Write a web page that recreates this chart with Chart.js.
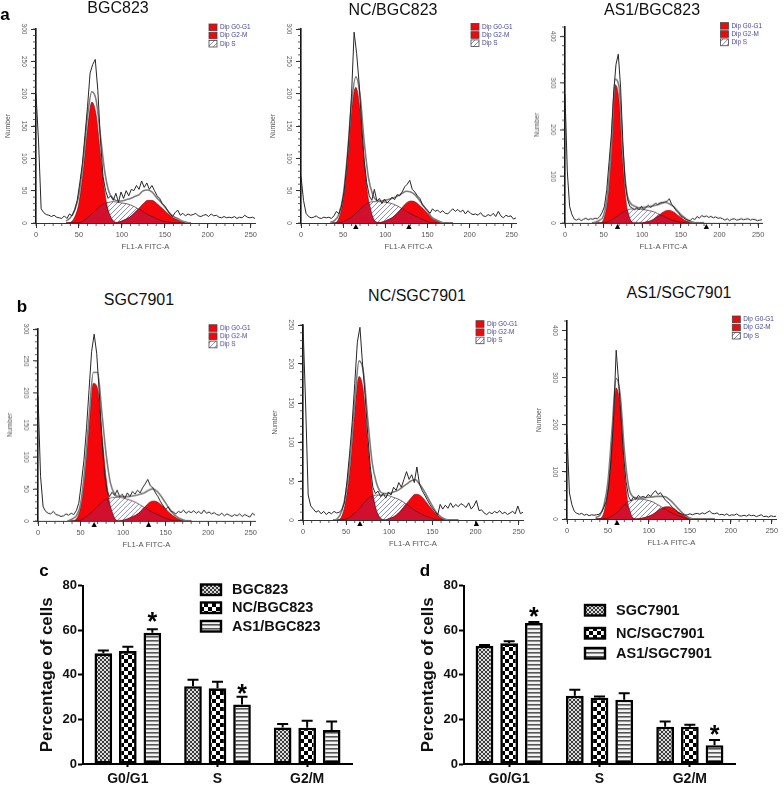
<!DOCTYPE html>
<html>
<head>
<meta charset="utf-8">
<script src="https://cdn.jsdelivr.net/npm/chart.js@4"></script>
<style>
  body { margin: 0; background: #fff; width: 784px; height: 786px; overflow: hidden; position: relative; font-family: "Liberation Sans", Arial, sans-serif; }
  canvas { position: absolute; filter: blur(0.35px); }
  .title { position: absolute; font-size: 16px; color: #111; transform: translate(-50%, -50%); white-space: nowrap; }
  .letter { position: absolute; font-size: 17px; font-weight: bold; color: #000; transform: translate(-50%, -50%); }
</style>
</head>
<body>
<script>
// Histogram channels (bins are read every 3 units) and the grid used for the fitted curves
const rawX = [0,3,6,9,12,15,18,21,24,27,30,33,36,39,42,45,48,51,54,57,60,63,66,69,72,75,78,81,84,87,90,93,96,99,102,105,108,111,114,117,120,123,126,129,132,135,138,141,144,147,150,153,156,159,162,165,168,171,174,177,180,183,186,189,192,195,198,201,204,207,210,213,216,219,222,225,228,231,234,237,240,243,246,249,252,255];
const fitX = [35,40,45,50,55,60,65,70,75,80,85,90,95,100,105,110,115,120,125,130,135,140,145,150,155,160,165,170,175,180];

// BGC823
const a1Raw = [200,125,22,16,13,12,10,12,9,8,7,11,7,14,11,20,35,62,92,135,180,232,245,253,205,130,72,50,38,42,35,46,32,48,38,50,42,52,50,58,52,65,55,62,52,58,50,42,38,30,26,20,14,10,16,20,12,15,11,14,12,13,15,11,10,12,13,10,14,11,12,9,8,10,8,9,8,10,7,9,8,12,9,8,9,7];
const a1Fit = [3,8,20,44,96,165,203,190,135,80,48,38,34,34,36,38,41,44,50,51,48,40,33,25,16,10,7,3,1,0];
const a1G1 = [0,1,9,31,81,145,187,167,107,48,15,3,0,0,0,0,0,0,0,0,0,0,0,0,0,0,0,0,0,0];
const a1S = [0,0,0,0,3,8,14,20,26,30,32,33,32,31,30,28,25,21,17,13,10,7,4,2,1,0,0,0,0,0];
const a1G2 = [0,0,0,0,0,0,0,0,0,0,0,0,1,3,6,10,16,23,30,35,35,31,25,19,13,8,5,2,1,0];

// NC/BGC823
const a2Raw = [72,35,15,10,8,9,11,8,7,9,8,9,7,11,18,14,26,48,85,135,200,295,262,215,150,95,62,42,35,52,34,38,30,37,31,35,40,36,44,42,48,56,60,66,52,48,42,38,28,24,20,15,22,18,20,16,19,15,14,18,22,18,21,17,20,14,19,15,13,14,12,16,11,10,13,11,15,10,18,11,8,12,10,11,6,8];
const a2Fit = [1,4,14,42,104,186,226,198,125,70,44,35,34,35,37,39,42,46,49,48,44,36,27,18,9,5,2,0,0,0];
const a2G1 = [0,0,8,36,96,175,210,175,96,36,9,1,0,0,0,0,0,0,0,0,0,0,0,0,0,0,0,0,0,0];
const a2S = [0,0,0,2,5,9,15,21,27,31,33,33,33,32,31,29,26,22,18,14,11,8,5,2,0,0,0,0,0,0];
const a2G2 = [0,0,0,0,0,0,0,0,0,0,0,0,1,3,6,10,16,24,31,34,33,28,22,15,9,5,2,0,0,0];

// AS1/BGC823
const a3Raw = [276,110,35,18,8,6,9,5,8,10,7,9,8,10,9,14,22,35,70,130,190,280,340,362,290,170,85,50,35,32,28,33,28,36,28,34,38,33,38,42,40,43,44,45,46,52,40,34,26,22,14,12,8,6,5,10,7,14,10,16,13,15,12,14,11,13,10,11,9,6,9,5,8,9,6,7,9,7,8,9,6,8,7,5,6,7];
const a3Fit = [0,2,6,16,60,165,308,292,150,65,42,36,33,33,34,35,37,39,42,44,41,36,27,18,11,5,2,0,0,0];
const a3G1 = [0,0,0,8,50,160,296,262,125,34,5,0,0,0,0,0,0,0,0,0,0,0,0,0,0,0,0,0,0,0];
const a3S = [0,0,0,0,2,6,11,17,23,27,30,30,30,29,28,26,24,20,16,12,8,5,3,1,0,0,0,0,0,0];
const a3G2 = [0,0,0,0,0,0,0,0,0,0,0,0,0,0,2,4,8,14,21,26,27,24,18,12,6,2,0,0,0,0];

// SGC7901
const b1Raw = [195,70,22,15,12,11,15,10,9,7,8,11,9,12,10,16,28,60,95,145,205,265,292,262,200,130,75,48,38,45,40,48,38,42,35,44,38,46,42,48,44,52,58,65,55,52,44,38,30,24,18,22,15,14,11,15,13,17,12,15,13,16,12,15,11,17,12,14,11,13,10,9,12,8,11,9,7,10,8,11,7,10,8,6,12,9];
const b1Fit = [0,3,8,26,82,162,232,232,170,105,60,42,38,38,38,39,40,42,44,48,50,46,38,28,18,10,5,2,0,0];
const b1G1 = [0,0,3,22,75,150,215,207,138,68,22,4,0,0,0,0,0,0,0,0,0,0,0,0,0,0,0,0,0,0];
const b1S = [0,0,0,1,5,10,16,23,29,34,36,37,37,36,34,32,29,25,21,17,13,10,7,4,2,0,0,0,0,0];
const b1G2 = [0,0,0,0,0,0,0,0,0,0,0,0,0,1,3,6,9,14,21,28,31,30,25,19,12,7,3,1,0,0];

// NC/SGC7901
const b2Raw = [250,150,32,18,14,10,12,8,11,7,10,8,11,9,10,13,22,50,85,125,175,228,247,200,160,110,68,42,34,37,30,34,28,36,32,42,38,48,42,52,62,52,58,48,68,46,38,32,26,20,15,11,6,20,14,19,15,22,16,20,17,21,19,16,22,14,18,25,12,13,9,7,10,8,11,9,12,8,10,7,9,11,8,18,8,10];
const b2Fit = [0,2,12,36,82,152,204,190,130,75,48,36,34,34,36,38,42,46,50,52,46,38,28,18,9,4,1,0,0,0];
const b2G1 = [0,0,5,27,72,140,184,165,100,42,12,2,0,0,0,0,0,0,0,0,0,0,0,0,0,0,0,0,0,0];
const b2S = [0,0,0,1,4,9,14,21,27,30,32,32,32,31,29,27,24,20,16,12,9,6,4,2,0,0,0,0,0,0];
const b2G2 = [0,0,0,0,0,0,0,0,0,0,0,0,0,2,4,8,14,21,28,33,32,27,20,13,7,3,1,0,0,0];

// AS1/SGC7901
const b3Raw = [180,55,30,16,12,10,12,8,10,7,9,8,9,10,14,25,38,70,130,220,358,290,215,135,80,48,38,46,42,50,46,48,45,52,48,55,60,52,56,48,40,36,30,24,20,14,12,10,8,9,11,9,11,12,10,13,11,14,17,12,11,13,9,10,8,11,7,9,8,11,7,6,8,6,9,7,8,5,7,9,5,6,4,7,5,6];
const b3Fit = [3,8,28,80,190,298,262,145,70,48,45,44,45,46,47,48,48,47,41,33,23,14,7,2,0,0,0,0,0,0];
const b3G1 = [0,1,14,66,180,278,235,105,25,3,0,0,0,0,0,0,0,0,0,0,0,0,0,0,0,0,0,0,0,0];
const b3S = [0,0,0,2,6,12,20,30,37,40,42,42,41,39,36,31,26,21,15,11,7,4,2,0,0,0,0,0,0,0];
const b3G2 = [0,0,0,0,0,0,0,0,0,0,0,1,3,6,10,16,22,26,26,22,16,10,5,2,0,0,0,0,0,0];

// Bar charts c and d
const phases = ['G0/G1', 'S', 'G2/M'];
const cNames = ['BGC823', 'NC/BGC823', 'AS1/BGC823'];
const cMeans = [[49.6, 34.9, 16.4], [50.6, 33.9, 16.3], [58.8, 26.7, 15.2]];
const cUpper = [[50.9, 37.8, 17.9], [52.5, 36.9, 19.4], [60.4, 30.1, 19.0]];
const cStars = [[2, 0, 66.5], [2, 1, 34]];
const dNames = ['SGC7901', 'NC/SGC7901', 'AS1/SGC7901'];
const dMeans = [[53, 30.6, 16.7], [54.1, 29.7, 16.7], [63.2, 28.8, 8.4]];
const dUpper = [[53.3, 33.3, 19], [55, 30.2, 17.6], [63.6, 31.7, 10.8]];
const dStars = [[2, 0, 68.5], [2, 2, 15.5]];

const flowLegend = ['Dip G0-G1', 'Dip G2-M', 'Dip S'];
const FONT = '"Liberation Sans", Arial, sans-serif';
const RED = '#f5060a';
const CRIMSON = '#d0102c';

// Small canvas tiles for the fills
function makeTile(w, h, draw) {
    const tile = document.createElement('canvas');
    tile.width = w;
    tile.height = h;
    const t = tile.getContext('2d');
    draw(t);
    return t.createPattern(tile, 'repeat');
}

const hatchFill = makeTile(5, 5, t => {
    t.strokeStyle = 'rgba(60,70,125,0.6)';
    t.lineWidth = 1;
    t.beginPath();
    t.moveTo(-1, 6); t.lineTo(6, -1);
    t.moveTo(-1, 1); t.lineTo(1, -1);
    t.moveTo(4, 6); t.lineTo(6, 4);
    t.stroke();
});
const fineFill = makeTile(4, 4, t => {
    t.fillStyle = '#dcdcdc'; t.fillRect(0, 0, 4, 4);
    t.fillStyle = '#3c3c3c'; t.fillRect(0, 0, 2, 2); t.fillRect(2, 2, 2, 2);
});
const checkFill = makeTile(8, 8, t => {
    t.fillStyle = '#fff'; t.fillRect(0, 0, 8, 8);
    t.fillStyle = '#000'; t.fillRect(0, 0, 4, 4); t.fillRect(4, 4, 4, 4);
});
const stripeFill = makeTile(4, 4, t => {
    t.fillStyle = '#f2f2f2'; t.fillRect(0, 0, 4, 4);
    t.fillStyle = '#555'; t.fillRect(0, 1, 4, 1.6);
});
const barFills = [fineFill, checkFill, stripeFill];

function addText(cls, text, x, y) {
    const div = document.createElement('div');
    div.className = cls;
    div.textContent = text;
    div.style.left = x + 'px';
    div.style.top = y + 'px';
    document.body.appendChild(div);
}

function addCanvas(left, top, width, height) {
    const canvas = document.createElement('canvas');
    canvas.style.left = left + 'px';
    canvas.style.top = top + 'px';
    canvas.style.width = width + 'px';
    canvas.style.height = height + 'px';
    canvas.width = width;
    canvas.height = height;
    document.body.appendChild(canvas);
    return canvas;
}

function zip(xs, ys) {
    return xs.map((x, i) => ({ x: x, y: ys[i] }));
}

// Minor ticks, arrow markers and the little legend of a histogram panel
const flowExtras = {
    id: 'flowExtras',
    afterDraw(chart, args, opts) {
        const ctx = chart.ctx;
        const x = chart.scales.x;
        const y = chart.scales.y;
        ctx.save();
        ctx.strokeStyle = '#333';
        ctx.lineWidth = 0.8;
        ctx.beginPath();
        for (let v = 0; v <= 250; v += 10) {
            ctx.moveTo(x.getPixelForValue(v), y.bottom);
            ctx.lineTo(x.getPixelForValue(v), y.bottom + 3);
        }
        for (let v = 0; v <= y.max; v += opts.minorStep) {
            ctx.moveTo(x.left, y.getPixelForValue(v));
            ctx.lineTo(x.left - 3, y.getPixelForValue(v));
        }
        ctx.stroke();

        ctx.fillStyle = '#000';
        opts.markers.forEach(m => {
            const px = x.getPixelForValue(m);
            ctx.beginPath();
            ctx.moveTo(px, y.bottom + 1);
            ctx.lineTo(px + 2.7, y.bottom + 6);
            ctx.lineTo(px - 2.7, y.bottom + 6);
            ctx.closePath();
            ctx.fill();
        });

        ctx.font = '6.4px ' + FONT;
        ctx.textBaseline = 'middle';
        flowLegend.forEach((name, i) => {
            const top = opts.legendY + i * 8.2;
            ctx.fillStyle = i < 2 ? RED : '#fff';
            ctx.fillRect(opts.legendX, top, 8, 6.6);
            if (i === 2) {
                ctx.fillStyle = hatchFill;
                ctx.fillRect(opts.legendX, top, 8, 6.6);
            }
            ctx.strokeStyle = '#444';
            ctx.lineWidth = 0.8;
            ctx.strokeRect(opts.legendX, top, 8, 6.6);
            ctx.fillStyle = '#45458c';
            ctx.fillText(name, opts.legendX + 11, top + 3.5);
        });
        ctx.restore();
    }
};

function drawFlowPanel(p) {
    const left = p.x0 - 36;
    const plotWidth = p.x250 * 255 / 250;
    const plotHeight = p.y0 - p.top;
    const canvas = addCanvas(left, p.top - 14, 36 + Math.round(plotWidth) + 14, plotHeight + 14 + 30);
    addText('title', p.title, p.titleX, p.titleY);

    // the S fraction that lies under a red peak is shown in a darker red
    const overlap = p.s.map((v, i) => Math.min(v, Math.max(p.g1[i], p.g2[i])));

    new Chart(canvas, {
        type: 'line',
        plugins: [flowExtras],
        data: {
            datasets: [
                { data: zip(rawX, p.raw), borderColor: '#262626', borderWidth: 1, fill: false },
                { data: zip(fitX, p.fit), borderColor: '#7d7d7d', borderWidth: 1.6, fill: false, cubicInterpolationMode: 'monotone' },
                { data: zip(fitX, overlap), borderColor: '#6a1020', borderWidth: 0.6, backgroundColor: CRIMSON, fill: 'origin', cubicInterpolationMode: 'monotone' },
                { data: zip(fitX, p.s), borderColor: '#4a2030', borderWidth: 0.7, backgroundColor: hatchFill, fill: 'origin', cubicInterpolationMode: 'monotone' },
                { data: zip(fitX, p.g2), borderColor: '#701010', borderWidth: 0.6, backgroundColor: RED, fill: 'origin', cubicInterpolationMode: 'monotone' },
                { data: zip(fitX, p.g1), borderColor: '#701010', borderWidth: 0.6, backgroundColor: RED, fill: 'origin', cubicInterpolationMode: 'monotone' }
            ]
        },
        options: {
            responsive: false,
            animation: false,
            elements: { point: { radius: 0 } },
            layout: { padding: { top: 14, right: 14 } },
            plugins: {
                legend: { display: false },
                tooltip: { enabled: false },
                flowExtras: {
                    minorStep: p.yMinor,
                    markers: p.markers,
                    legendX: p.legendX - left,
                    legendY: p.legendY - (p.top - 14)
                }
            },
            scales: {
                x: {
                    type: 'linear', min: 0, max: 255,
                    afterFit: s => { s.height = 30; },
                    border: { color: '#333', width: 1 },
                    grid: { drawOnChartArea: false, tickLength: 5, tickColor: '#333' },
                    ticks: { stepSize: 50, includeBounds: false, maxRotation: 0, padding: 3, color: '#555', font: { size: 7.4, family: FONT } },
                    title: { display: true, text: 'FL1-A FITC-A', color: '#555', padding: { top: 0, bottom: 1 }, font: { size: 7.7, family: FONT } }
                },
                y: {
                    min: 0, max: p.yMax,
                    afterFit: s => { s.width = 36; },
                    border: { color: '#111', width: 1.6 },
                    grid: { drawOnChartArea: false, tickLength: 5, tickColor: '#333' },
                    ticks: { stepSize: p.yStep, includeBounds: false, minRotation: -90, maxRotation: -90, crossAlign: 'center', padding: 2, color: '#555', font: { size: 6.5, family: FONT } },
                    title: { display: true, text: 'Number', color: '#555', padding: { top: 4, bottom: 0 }, font: { size: 6.8, family: FONT } }
                }
            }
        }
    });
}

// Upper error whiskers and significance stars
const barExtras = {
    id: 'barExtras',
    afterDatasetsDraw(chart, args, opts) {
        const ctx = chart.ctx;
        const y = chart.scales.y;
        ctx.save();
        ctx.strokeStyle = '#000';
        ctx.lineWidth = 2;
        opts.upper.forEach((tops, ds) => {
            tops.forEach((value, i) => {
                const bar = chart.getDatasetMeta(ds).data[i];
                const py = y.getPixelForValue(value);
                ctx.beginPath();
                ctx.moveTo(bar.x, bar.y);
                ctx.lineTo(bar.x, py);
                ctx.moveTo(bar.x - 5.5, py);
                ctx.lineTo(bar.x + 5.5, py);
                ctx.stroke();
            });
        });
        ctx.fillStyle = '#000';
        ctx.font = 'bold 25px ' + FONT;
        ctx.textAlign = 'center';
        opts.stars.forEach(s => {
            const bar = chart.getDatasetMeta(s[0]).data[s[1]];
            ctx.fillText('*', bar.x, y.getPixelForValue(s[2]) + 14);
        });

        ctx.font = 'bold 14.5px ' + FONT;
        ctx.textAlign = 'left';
        ctx.textBaseline = 'middle';
        opts.names.forEach((name, i) => {
            const top = opts.legendY[i];
            ctx.fillStyle = barFills[i];
            ctx.fillRect(opts.legendX, top, 20, 10.5);
            ctx.lineWidth = 2.4;
            ctx.strokeRect(opts.legendX, top, 20, 10.5);
            ctx.fillStyle = '#111';
            ctx.fillText(name, opts.legendX + 31, top + 5.8);
        });
        ctx.restore();
    }
};

function drawBarPanel(p) {
    const canvas = addCanvas(p.left, 575, p.width, 211);
    new Chart(canvas, {
        type: 'bar',
        plugins: [barExtras],
        data: {
            labels: phases,
            datasets: p.names.map((name, i) => ({
                label: name,
                data: p.means[i],
                backgroundColor: barFills[i],
                borderColor: '#000',
                borderWidth: 2.6,
                borderSkipped: false,
                categoryPercentage: 0.82,
                barPercentage: 0.72
            }))
        },
        options: {
            responsive: false,
            animation: false,
            layout: { padding: { top: 10.5, right: 8 } },
            plugins: {
                legend: { display: false },
                tooltip: { enabled: false },
                barExtras: { upper: p.upper, stars: p.stars, names: p.names, legendX: p.legendX, legendY: p.legendY }
            },
            scales: {
                x: {
                    afterFit: s => { s.height = 22; },
                    border: { color: '#000', width: 2 },
                    grid: { drawOnChartArea: false, offset: false, tickLength: 3, tickWidth: 2, tickColor: '#000' },
                    ticks: { padding: 4, color: '#111', font: { size: 14, weight: 'bold', family: FONT } }
                },
                y: {
                    min: 0, max: 80,
                    afterFit: s => { s.width = 83; },
                    border: { color: '#000', width: 2 },
                    grid: { drawOnChartArea: false, tickLength: 5, tickWidth: 2, tickColor: '#000' },
                    ticks: { stepSize: 20, padding: 1, color: '#111', font: { size: 13, weight: 'bold', family: FONT } },
                    title: { display: true, text: 'Percentage of cells', color: '#111', padding: { top: 37, bottom: 0 }, font: { size: 17, weight: 'bold', family: FONT } }
                }
            }
        }
    });
}

drawFlowPanel({ title: 'BGC823', titleX: 118, titleY: 8, x0: 36, x250: 215, top: 28.5, y0: 222.5, yMax: 300, yStep: 50, yMinor: 10, raw: a1Raw, fit: a1Fit, g1: a1G1, s: a1S, g2: a1G2, markers: [], legendX: 209, legendY: 23.5 });
drawFlowPanel({ title: 'NC/BGC823', titleX: 393, titleY: 10, x0: 301, x250: 211, top: 28.5, y0: 222.5, yMax: 300, yStep: 50, yMinor: 10, raw: a2Raw, fit: a2Fit, g1: a2G1, s: a2S, g2: a2G2, markers: [65, 128], legendX: 471, legendY: 23 });
drawFlowPanel({ title: 'AS1/BGC823', titleX: 652, titleY: 10, x0: 565, x250: 193, top: 27, y0: 222.5, yMax: 420, yStep: 100, yMinor: 20, raw: a3Raw, fit: a3Fit, g1: a3G1, s: a3S, g2: a3G2, markers: [68, 183], legendX: 720.5, legendY: 22.5 });
drawFlowPanel({ title: 'SGC7901', titleX: 139, titleY: 300, x0: 38, x250: 213, top: 329.3, y0: 521, yMax: 300, yStep: 50, yMinor: 10, raw: b1Raw, fit: b1Fit, g1: b1G1, s: b1S, g2: b1G2, markers: [66, 130], legendX: 209, legendY: 325 });
drawFlowPanel({ title: 'NC/SGC7901', titleX: 417, titleY: 296, x0: 303, x250: 216, top: 325, y0: 520.3, yMax: 250, yStep: 50, yMinor: 10, raw: b2Raw, fit: b2Fit, g1: b2G1, s: b2S, g2: b2G2, markers: [66, 201], legendX: 476, legendY: 320.7 });
drawFlowPanel({ title: 'AS1/SGC7901', titleX: 679, titleY: 293, x0: 567, x250: 205, top: 320.7, y0: 518.7, yMax: 420, yStep: 100, yMinor: 20, raw: b3Raw, fit: b3Fit, g1: b3G1, s: b3S, g2: b3G2, markers: [61], legendX: 732.3, legendY: 315.7 });

drawBarPanel({ left: 0, width: 360, names: cNames, means: cMeans, upper: cUpper, stars: cStars, legendX: 201, legendY: [9.5, 27.5, 46] });
drawBarPanel({ left: 381, width: 362, names: dNames, means: dMeans, upper: dUpper, stars: dStars, legendX: 204, legendY: [30, 53, 73] });

addText('letter', 'a', 5, 15);
addText('letter', 'b', 22, 307);
addText('letter', 'c', 44, 571);
addText('letter', 'd', 425, 571);
</script>
</body>
</html>
